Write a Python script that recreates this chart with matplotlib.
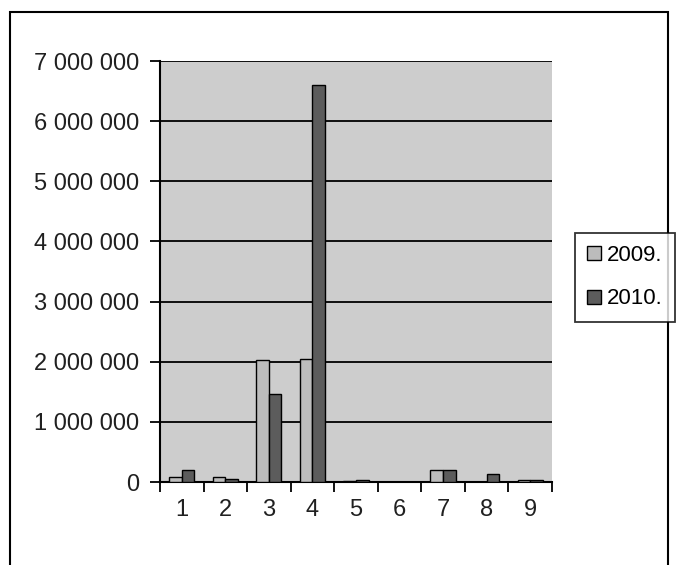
import matplotlib.pyplot as plt
import numpy as np
from matplotlib.patches import Rectangle

categories = ['1', '2', '3', '4', '5', '6', '7', '8', '9']
values_2009 = [80000, 75000, 2030000, 2040000, 15000, 0, 200000, 0, 30000]
values_2010 = [200000, 45000, 1460000, 6600000, 35000, 0, 200000, 140000, 30000]
y_ticks = [0, 1000000, 2000000, 3000000, 4000000, 5000000, 6000000, 7000000]
y_labels = ['0', '1 000 000', '2 000 000', '3 000 000', '4 000 000',
            '5 000 000', '6 000 000', '7 000 000']

plt.rcParams['font.family'] = ['Liberation Sans', 'DejaVu Sans']

fig = plt.figure(figsize=(6.77, 5.65), dpi=100)
ax = fig.add_axes([0.2363, 0.1469, 0.579, 0.745])
ax.set_facecolor('#cdcdcd')

x = np.arange(len(categories))
w = 0.29
ax.bar(x - w / 2, values_2009, w, color='#bcbcbc', edgecolor='black', linewidth=1.0, label='2009.', zorder=3)
ax.bar(x + w / 2, values_2010, w, color='#5c5c5c', edgecolor='black', linewidth=1.0, label='2010.', zorder=3)

ax.set_ylim(0, 7000000)
ax.set_xlim(-0.5, len(categories) - 0.5)
ax.set_yticks(y_ticks)
ax.set_yticklabels(y_labels, fontsize=17, color='#202020')
ax.yaxis.grid(True, color='black', linewidth=1.3, zorder=1)
ax.set_axisbelow(True)

ax.set_xticks(x)
ax.set_xticklabels(categories, fontsize=17, color='#202020')
ax.set_xticks(np.arange(-0.5, len(categories)), minor=True)
ax.tick_params(axis='x', which='major', length=0, pad=12)
ax.tick_params(axis='x', which='minor', length=7, width=1.3, direction='out')
ax.tick_params(axis='y', length=7, width=1.3, direction='out', pad=8)

for side in ['top', 'right']:
    ax.spines[side].set_visible(False)
ax.spines['left'].set_linewidth(1.5)
ax.spines['bottom'].set_linewidth(1.5)

leg = fig.legend(loc='upper left', bbox_to_anchor=(575 / 677, 1 - 233 / 565), fontsize=16,
                 frameon=True, fancybox=False, edgecolor='black', handlelength=0.6,
                 handleheight=0.6, handletextpad=0.3, borderpad=0.55, labelspacing=1.0,
                 borderaxespad=0)
leg.get_frame().set_linewidth(1.3)

# outer chart frame
fig.patches.append(Rectangle((10 / 677, -0.05), 658 / 677, 1 - 12 / 565 + 0.05,
                             transform=fig.transFigure, fill=False,
                             edgecolor='black', linewidth=1.5))

fig.savefig('out.png', dpi=100, facecolor='white')
